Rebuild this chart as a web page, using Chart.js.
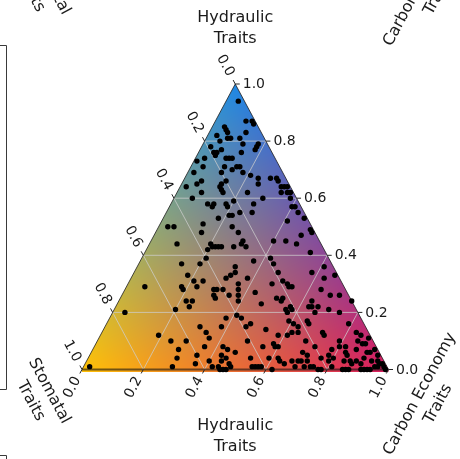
<!DOCTYPE html>
<html>
<head>
<meta charset="utf-8">
<script src="https://cdn.jsdelivr.net/npm/chart.js@4/dist/chart.umd.min.js"></script>
<style>
  html, body { margin: 0; padding: 0; background: #ffffff; }
  #wrap { width: 460px; height: 459px; position: relative; }
</style>
</head>
<body>
<div id="wrap"><canvas id="ternary"></canvas></div>
<script>
// Share of each trait group per species (rows sum to 1; stomatal is the remainder)
const hydraulic = [
  .94,.87,.87,.86,.85,.84,.83,.81,.81,.82, .83,.81,.80,.78,.76,.77,.76,.75,.79,.79,
  .78,.77,.76,.74,.74,.74,.74,.71,.71,.71, .71,.70,.69,.69,.68,.67,.65,.67,.67,.66,
  .64,.64,.64,.62,.62,.60,.62,.57,.57,.55, .52,.60,.58,.55,.65,.66,.64,.63,.62,.62,
  .59,.58,.57,.58,.58,.57,.54,.54,.53,.55, .50,.51,.66,.62,.49,.53,.73,.69,.64,.65,
  .60,.50,.50,.48,.44,.43,.43,.43,.43,.42, .39,.37,.37,.33,.31,.31,.29,.29,.28,.28,
  .28,.26,.25,.28,.26,.29,.24,.24,.22,.21, .18,.20,.15,.15,.13,.11,.12,.10,.10,.07,
  .04,.05,.08,.08,.07,.05,.04,.03,.02,.03, .01,.02,.01,.01,.00,.00,.00,.01,.01,.44,
  .32,.33,.48,.45,.44,.43,.43,.45,.45,.44, .47,.48,.41,.39,.37,.38,.36,.34,.32,.34,
  .34,.36,.32,.33,.30,.28,.26,.24,.30,.31, .30,.29,.29,.27,.25,.25,.23,.28,.26,.26,
  .24,.24,.22,.22,.22,.20,.22,.21,.24,.21, .20,.21,.20,.19,.18,.15,.16,.14,.17,.16,
  .15,.16,.17,.12,.12,.13,.13,.13,.12,.16, .13,.10,.08,.09,.08,.08,.06,.04,.04,.04,
  .03,.02,.01,.01,.01,.01,.00,.10,.08,.06, .07,.05,.08,.10,.06,.05,.10,.09,.11,.07,
  .06,.06,.07,.03,.03,.03,.03,.04,.03,.03, .02,.03,.02,.04,.05,.03,.02,.02,.01,.01,
  .01,.01,.00,.00,.01,.00,.00,.00,.00,.00, .00,.00,.01,.01,.01,.00,.03,.04,.03,.12,
  .09,.08,.05
];
const carbon = [
  .04,.10,.12,.13,.04,.05,.06,.07,.08,.03, .12,.11,.05,.03,.05,.07,.06,.06,.13,.18,
  .18,.18,.14,.10,.11,.12,.03,.04,.11,.15, .16,.14,.11,.18,.21,.24,.25,.28,.30,.31,
  .33,.34,.35,.36,.37,.38,.34,.40,.41,.43, .41,.29,.27,.28,.13,.14,.13,.14,.15,.23,
  .20,.18,.19,.12,.14,.14,.21,.22,.18,.24, .24,.14,.06,.08,.50,.46,.01,.02,.02,.05,
  .06,.03,.05,.15,.09,.21,.22,.23,.24,.20, .21,.14,.20,.18,.21,.24,.23,.18,.19,.29,
  .30,.30,.31,.32,.35,.06,.22,.24,.24,.20, .38,.04,.38,.31,.34,.36,.19,.24,.29,.28,
  .29,.35,.36,.42,.44,.43,.45,.44,.47,.40, .29,.36,.42,.44,.45,.46,.47,.02,.48,.20,
  .31,.32,.27,.30,.30,.32,.28,.40,.44,.48, .48,.51,.54,.42,.44,.37,.32,.33,.38,.47,
  .58,.61,.63,.66,.36,.37,.38,.39,.47,.50, .52,.53,.54,.43,.51,.53,.47,.64,.68,.71,
  .76,.63,.63,.64,.66,.66,.57,.58,.53,.56, .57,.70,.74,.41,.43,.46,.47,.53,.59,.61,
  .63,.66,.65,.58,.61,.62,.64,.72,.73,.79, .83,.49,.55,.58,.59,.60,.47,.53,.59,.62,
  .63,.65,.55,.56,.57,.58,.62,.68,.72,.69, .78,.78,.80,.79,.83,.84,.85,.87,.88,.86,
  .90,.91,.92,.93,.69,.70,.72,.80,.84,.86, .87,.88,.90,.90,.94,.95,.96,.97,.69,.72,
  .74,.75,.77,.78,.81,.85,.86,.87,.91,.92, .93,.94,.95,.96,.98,.99,.67,.76,.79,.85,
  .88,.82,.71
];
const stomatal = hydraulic.map((h, i) => +(1 - h - carbon[i]).toFixed(2));

const tickValues = [0, 0.2, 0.4, 0.6, 0.8, 1.0];
const tickLabels = ['0.0', '0.2', '0.4', '0.6', '0.8', '1.0'];
const gridValues = [0.2, 0.4, 0.6, 0.8];

const titleHydraulic = ['Hydraulic', 'Traits'];
const titleStomatal = ['Stomatal', 'Traits'];
const titleCarbon = ['Carbon Economy', 'Traits'];

// corner colours of the composition field
const colHydraulic = [30, 136, 229];
const colStomatal = [255, 193, 7];
const colCarbon = [216, 27, 96];

const FONT = '"DejaVu Sans", "Liberation Sans", sans-serif';

// ternary (hydraulic, carbon) -> cartesian value space of the chart
const points = hydraulic.map((h, i) => ({ x: carbon[i] + h / 2, y: h, s: stomatal[i] }));

function geom(chart) {
  const xs = chart.scales.x, ys = chart.scales.y;
  const P = (h, c) => ({ x: xs.getPixelForValue(c + h / 2), y: ys.getPixelForValue(h) });
  const L = P(0, 0), R = P(0, 1), A = P(1, 0);
  const len = Math.hypot(R.x - A.x, R.y - A.y);
  const dRight = { x: (R.x - A.x) / len, y: (R.y - A.y) / len };   // apex -> bottom right
  const dLeft = { x: (L.x - A.x) / len, y: (L.y - A.y) / len };    // apex -> bottom left
  return { P, L, R, A, dRight, dLeft };
}

function line(ctx, a, b) {
  ctx.beginPath(); ctx.moveTo(a.x, a.y); ctx.lineTo(b.x, b.y); ctx.stroke();
}

function rotText(ctx, lines, cx, cy, ang, gap) {
  ctx.save();
  ctx.translate(cx, cy);
  ctx.rotate(ang);
  const n = lines.length;
  lines.forEach((t, i) => ctx.fillText(t, 0, (i - (n - 1) / 2) * gap));
  ctx.restore();
}

const ternaryBackground = {
  id: 'ternaryBackground',
  beforeDatasetsDraw(chart) {
    const ctx = chart.ctx;
    const { P, L, R, A } = geom(chart);
    // blended colour field
    const x0 = Math.floor(L.x) - 1, y0 = Math.floor(A.y) - 1;
    const w = Math.ceil(R.x) + 2 - x0, hh = Math.ceil(L.y) + 4 - y0;
    const off = document.createElement('canvas');
    off.width = w; off.height = hh;
    const octx = off.getContext('2d');
    const img = octx.createImageData(w, hh);
    for (let j = 0; j < hh; j++) {
      for (let i = 0; i < w; i++) {
        const px = x0 + i + 0.5, py = y0 + j + 0.5;
        let hv = (L.y - py) / (L.y - A.y);
        const xv = (px - L.x) / (R.x - L.x);
        let cv = xv - hv / 2;
        let sv = 1 - hv - cv;
        hv = Math.max(0, hv); cv = Math.max(0, cv); sv = Math.max(0, sv);
        const t = (hv + cv + sv) || 1;
        hv /= t; cv /= t; sv /= t;
        const k = (j * w + i) * 4;
        for (let ch = 0; ch < 3; ch++) {
          img.data[k + ch] = hv * colHydraulic[ch] + cv * colCarbon[ch] + sv * colStomatal[ch];
        }
        img.data[k + 3] = 255;
      }
    }
    octx.putImageData(img, 0, 0);
    ctx.save();
    ctx.beginPath();
    ctx.moveTo(A.x, A.y);
    ctx.lineTo(R.x, R.y);
    ctx.lineTo(R.x, R.y + 2.5);
    ctx.lineTo(L.x, L.y + 2.5);
    ctx.lineTo(L.x, L.y);
    ctx.closePath();
    ctx.clip();
    ctx.drawImage(off, x0, y0);
    ctx.restore();

    // grid
    ctx.save();
    ctx.strokeStyle = 'rgba(205,205,205,0.75)';
    ctx.lineWidth = 1;
    gridValues.forEach(v => {
      line(ctx, P(v, 0), P(v, 1 - v));        // constant hydraulic
      line(ctx, P(0, v), P(1 - v, v));        // constant carbon
      line(ctx, P(1 - v, 0), P(0, 1 - v));    // constant stomatal
    });
    // triangle edges
    ctx.strokeStyle = 'rgba(30,30,30,0.8)';
    ctx.lineWidth = 1;
    line(ctx, L, A);
    line(ctx, A, R);
    ctx.strokeStyle = 'rgba(20,20,20,0.6)';
    ctx.lineWidth = 2;
    line(ctx, L, R);
    ctx.restore();
  },
  afterDatasetsDraw(chart) {
    const ctx = chart.ctx;
    const { P, L, R, A, dRight, dLeft } = geom(chart);
    const angLeft = Math.atan2(dRight.y, dRight.x);   // ~ +61.7 deg
    const angBottom = -angLeft;
    ctx.save();
    ctx.strokeStyle = '#262626';
    ctx.fillStyle = '#1a1a1a';
    ctx.lineWidth = 1;
    ctx.font = '14px ' + FONT;

    tickValues.forEach((v, i) => {
      // hydraulic share along the right edge
      const pr = P(v, 1 - v);
      line(ctx, pr, { x: pr.x + 4.5, y: pr.y });
      ctx.textAlign = 'left'; ctx.textBaseline = 'middle';
      ctx.fillText(tickLabels[i], pr.x + 7.5, pr.y + 0.5);

      // stomatal share along the left edge
      const pl = P(1 - v, 0);
      const out = { x: -dRight.x, y: -dRight.y };
      line(ctx, pl, { x: pl.x + out.x * 4.5, y: pl.y + out.y * 4.5 });
      ctx.textAlign = 'center'; ctx.textBaseline = 'middle';
      rotText(ctx, [tickLabels[i]], pl.x + out.x * 21, pl.y + out.y * 21, angLeft, 0);

      // carbon share along the bottom edge
      const pb = P(0, v);
      line(ctx, pb, { x: pb.x + dLeft.x * 4.5, y: pb.y + dLeft.y * 4.5 });
      rotText(ctx, [tickLabels[i]], pb.x + dLeft.x * 20.5, pb.y + dLeft.y * 20.5, angBottom, 0);
    });

    // axis titles
    ctx.font = '16px ' + FONT;
    ctx.textAlign = 'center'; ctx.textBaseline = 'middle';
    rotText(ctx, titleHydraulic, A.x, 28.5, 0, 21);
    rotText(ctx, titleHydraulic, A.x, 436.5, 0, 21);
    rotText(ctx, titleStomatal, 40, 396, angLeft, 21);
    rotText(ctx, titleCarbon, 429, 399, angBottom, 21);
    // titles of the panel stacked above
    rotText(ctx, titleStomatal, 40, 396 - 409, angLeft, 21);
    rotText(ctx, titleCarbon, 429, 399 - 409, angBottom, 21);

    // frames of the neighbouring panels
    ctx.strokeStyle = '#3a3a3a';
    ctx.lineWidth = 1;
    ctx.beginPath();
    ctx.moveTo(0, 45.5); ctx.lineTo(6.5, 45.5); ctx.lineTo(6.5, 389.5); ctx.lineTo(0, 389.5);
    ctx.stroke();
    ctx.beginPath();
    ctx.moveTo(0, 455.5); ctx.lineTo(6.5, 455.5); ctx.lineTo(6.5, 460);
    ctx.stroke();
    ctx.restore();
  }
};

new Chart(document.getElementById('ternary'), {
  type: 'scatter',
  data: {
    datasets: [{
      data: points,
      backgroundColor: '#000000',
      borderWidth: 0,
      pointRadius: 2.7,
      clip: false
    }]
  },
  options: {
    responsive: true,
    maintainAspectRatio: false,
    animation: false,
    layout: { padding: { left: 82, right: 71.5, top: 84, bottom: 89.5 } },
    plugins: { legend: { display: false }, tooltip: { enabled: false } },
    scales: {
      x: { type: 'linear', min: 0, max: 1, display: false },
      y: { type: 'linear', min: 0, max: 1, display: false }
    }
  },
  plugins: [ternaryBackground]
});
</script>
</body>
</html>
